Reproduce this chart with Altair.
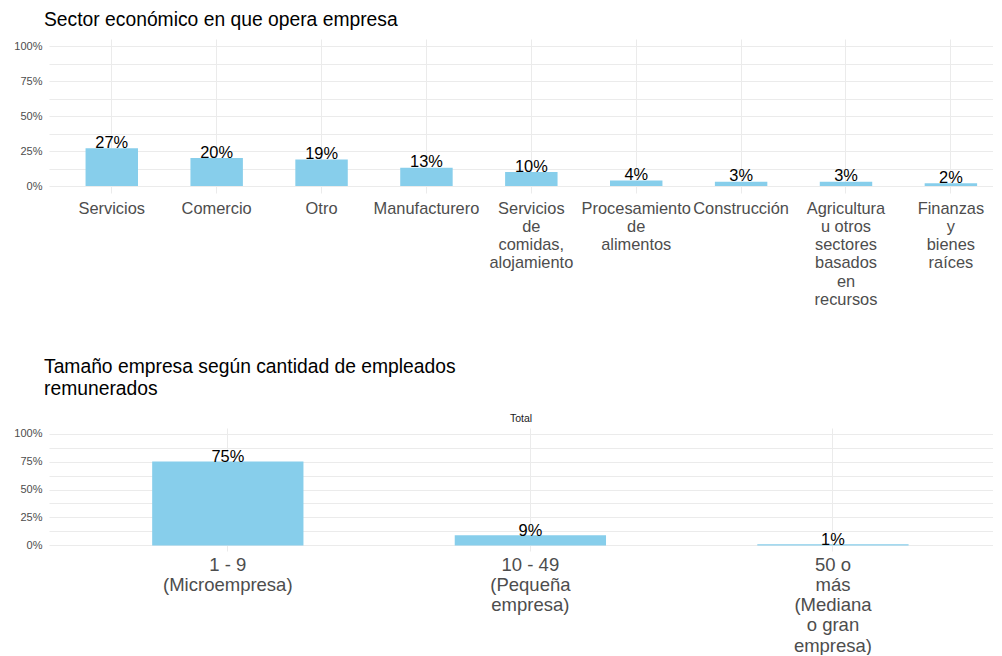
import altair as alt
import pandas as pd

# ---- data ----
sectors = [
    "Servicios",
    "Comercio",
    "Otro",
    "Manufacturero",
    "Servicios|de|comidas,|alojamiento",
    "Procesamiento|de|alimentos",
    "Construcción",
    "Agricultura|u otros|sectores|basados|en|recursos",
    "Finanzas|y|bienes|raíces",
]
sector_share = [0.27, 0.20, 0.19, 0.13, 0.10, 0.04, 0.03, 0.03, 0.02]

sizes = [
    "1 - 9|(Microempresa)",
    "10 - 49|(Pequeña|empresa)",
    "50 o|más|(Mediana|o gran|empresa)",
]
size_share = [0.75, 0.09, 0.01]
panel_label = "Total"

y_ticks = [0, 0.125, 0.25, 0.375, 0.5, 0.625, 0.75, 0.875, 1.0]

top_df = pd.DataFrame({"cat": sectors, "share": sector_share})
bot_df = pd.DataFrame({"cat": sizes, "share": size_share, "panel": [panel_label] * len(sizes)})

# ---- style ----
FONT = "Liberation Sans"
BAR = "#87CEEB"
GRID = "#EBEBEB"
AXT = "#4D4D4D"


def y_enc(label_pad):
    return alt.Y(
        "share:Q",
        scale=alt.Scale(domain=[-0.05, 1.05], nice=False, zero=False),
        axis=alt.Axis(
            values=y_ticks,
            labelExpr="datum.value % 0.25 == 0 ? format(datum.value, '.0%') : ''",
            title=None,
            ticks=False,
            domain=False,
            grid=True,
            gridColor=GRID,
            labelColor=AXT,
            labelFontSize=11,
            labelPadding=label_pad,
            labelFont=FONT,
        ),
    )


def x_enc(po, align, fs, lh, pad):
    return alt.X(
        "cat:N",
        sort=None,
        scale=alt.Scale(paddingInner=0.5, paddingOuter=po, align=align),
        axis=alt.Axis(
            title=None,
            labelAngle=0,
            labelExpr="split(datum.label, '|')",
            labelFontSize=fs,
            labelLineHeight=lh,
            labelColor=AXT,
            labelFont=FONT,
            labelBaseline="top",
            labelPadding=pad,
            labelOverlap=False,
            labelBound=False,
            labelLimit=0,
            ticks=False,
            domain=False,
            grid=True,
            gridColor=GRID,
            bandPosition=0.5,
        ),
    )


TITLE_KW = dict(
    anchor="start",
    frame="group",
    fontSize=19.3,
    font=FONT,
    fontWeight="normal",
    color="black",
    dx=-5,
)

# ---- top panel ----
tx = x_enc(0.25, 0.697, 16.4, 18.3, 7)
ty = y_enc(7)
top_base = alt.Chart(top_df)
top_bar = top_base.mark_bar(color=BAR).encode(x=tx, y=ty, y2=alt.datum(0))
top_txt = top_base.mark_text(
    font=FONT, fontSize=16.4, color="black", baseline="alphabetic", dy=-0.5
).encode(x=tx, y=ty, text=alt.Text("share:Q", format=".0%"))

top = alt.layer(top_bar, top_txt).properties(
    width=944,
    height=154,
    title=alt.TitleParams("Sector económico en que opera empresa", offset=9, **TITLE_KW),
)

# ---- bottom panel ----
bx = x_enc(0.31, 0.55, 18.5, 20.3, 4)
by = y_enc(7)
bot_bar = alt.Chart().mark_bar(color=BAR).encode(x=bx, y=by, y2=alt.datum(0))
bot_txt = alt.Chart().mark_text(
    font=FONT, fontSize=16.4, color="black", baseline="alphabetic", dy=0.5
).encode(x=bx, y=by, text=alt.Text("share:Q", format=".0%"))

bottom = (
    alt.layer(bot_bar, bot_txt, data=bot_df)
    .properties(width=944, height=123)
    .facet(
        column=alt.Column(
            "panel:N",
            title=None,
            header=alt.Header(
                labelFontSize=10.5,
                labelColor="#1A1A1A",
                labelFont=FONT,
                labelPadding=4,
            ),
        ),
        title=alt.TitleParams(
            ["Tamaño empresa según cantidad de empleados", "remunerados"],
            lineHeight=22,
            offset=14,
            **TITLE_KW,
        ),
    )
)

chart = (
    alt.vconcat(top, bottom, spacing=50)
    .properties(padding={"left": 5, "top": 2, "right": 0, "bottom": 0})
    .configure_view(stroke=None)
)

chart.save("out.html", embed_options={"renderer": "svg", "actions": False})
